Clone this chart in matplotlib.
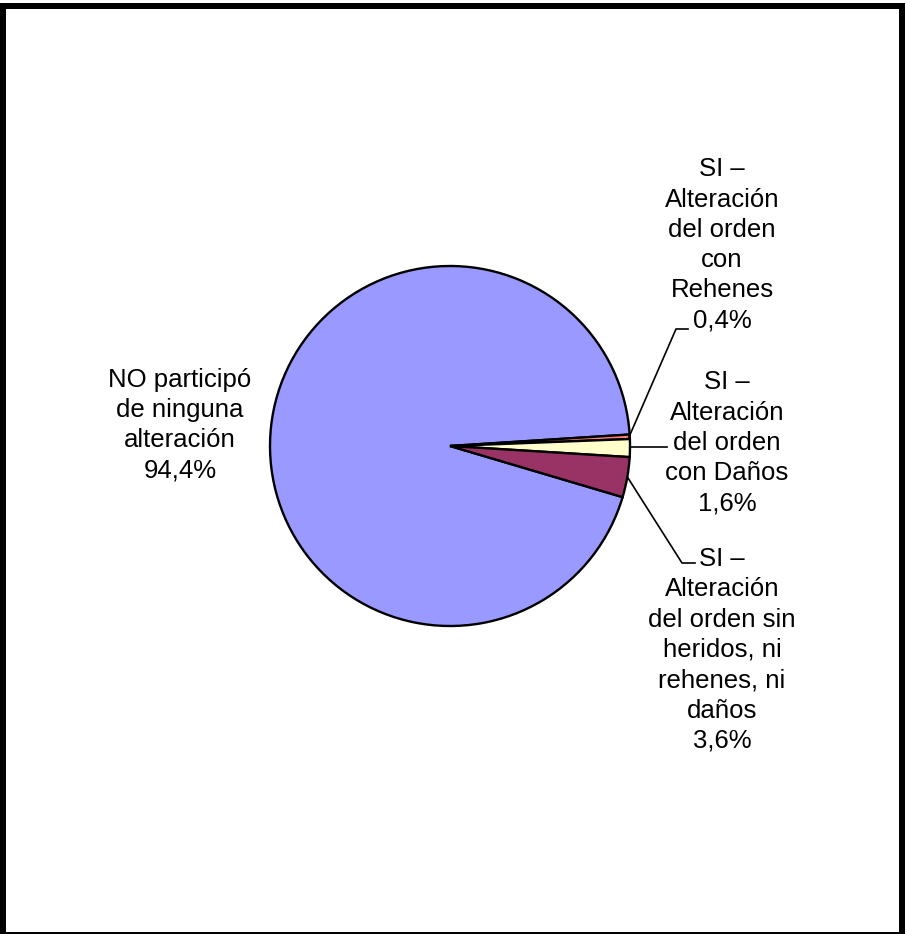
import matplotlib.pyplot as plt
from matplotlib.patches import Rectangle

plt.rcParams['font.family'] = ['Liberation Sans', 'DejaVu Sans']

labels = ["NO participó\nde ninguna\nalteración",
          "SI –\nAlteración\ndel orden\ncon\nRehenes",
          "SI –\nAlteración\ndel orden\ncon Daños",
          "SI –\nAlteración\ndel orden sin\nheridos, ni\nrehenes, ni\ndaños"]
values = [94.4, 0.4, 1.6, 3.6]
pct_text = ["94,4%", "0,4%", "1,6%", "3,6%"]
colors = ['#9999FF', '#FF8080', '#FFFFCC', '#993366']

W, H = 906, 934
fig = plt.figure(figsize=(W / 100, H / 100), dpi=100)
ax = fig.add_axes([0, 0, 1, 1])
ax.set_xlim(0, W)
ax.set_ylim(0, H)
ax.set_aspect('equal')
ax.axis('off')

def py(y):
    # pixel row (from top) to data y
    return H - y

cx, cy, r = 450, 446, 180
ax.pie(values, colors=colors, startangle=-16.5, counterclock=False,
       center=(cx, py(cy)), radius=r,
       wedgeprops=dict(edgecolor='black', linewidth=1.7))
ax.set_xlim(0, W)
ax.set_ylim(0, H)

# label positions (pixels)
pos = [(180, 425), (722, 245), (727, 443), (722, 650)]
for lab, pct, (x, y) in zip(labels, pct_text, pos):
    ax.text(x, py(y), lab + "\n" + pct, ha='center', va='center',
            fontsize=18.5, linespacing=1.33, multialignment='center')

# leader lines
ax.plot([629, 676, 688], [py(437), py(329), py(329)], color='black', lw=1.2)
ax.plot([631, 667], [py(447), py(447)], color='black', lw=1.2)
ax.plot([628, 682, 695], [py(478), py(563), py(563)], color='black', lw=1.2)

# outer frame (left, top, right, bottom)
for x0, y0, w, h in [(0, 3, 6, 931), (0, 3, 905, 6), (899, 3, 6, 931), (0, 932, 905, 2)]:
    ax.add_patch(Rectangle((x0, py(y0 + h)), w, h, color='black', lw=0, clip_on=False))

fig.savefig('out.png', dpi=100)
